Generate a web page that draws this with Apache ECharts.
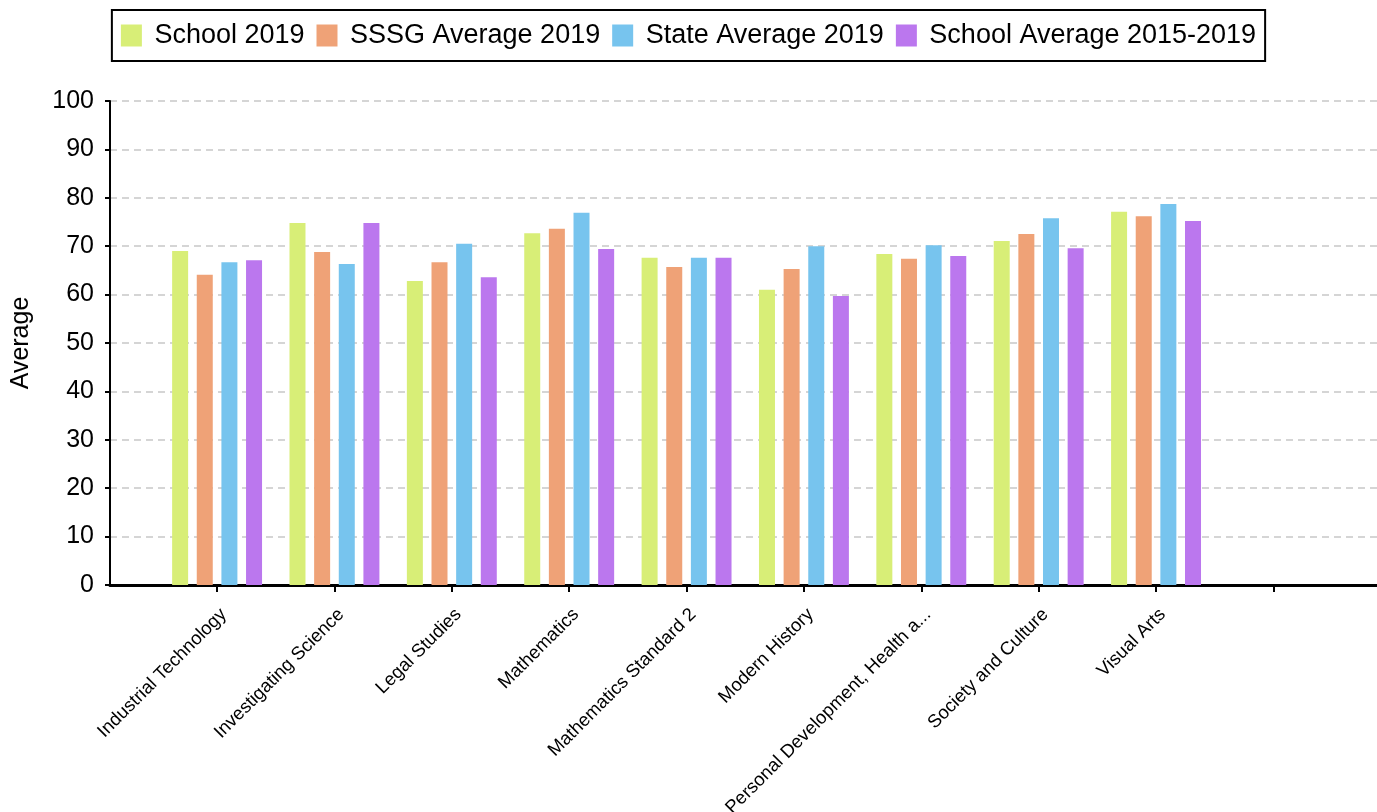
<!DOCTYPE html>
<html>
<head>
<meta charset="utf-8">
<script src="https://cdn.jsdelivr.net/npm/echarts@6/dist/echarts.min.js"></script>
<style>
  html, body { margin: 0; padding: 0; background: #fff; }
  #main { width: 1377px; height: 812px; }
</style>
</head>
<body>
<div id="main"></div>
<script>
// subjects, last slot is empty
var subjects = ['Industrial Technology', 'Investigating Science', 'Legal Studies', 'Mathematics',
    'Mathematics Standard 2', 'Modern History', 'Personal Development, Health and Physical Education',
    'Society and Culture', 'Visual Arts', ''];

var school2019 = [69.0, 74.8, 62.8, 72.7, 67.6, 61.0, 68.4, 71.1, 77.1, null];
var sssg2019 = [64.1, 68.8, 66.7, 73.6, 65.7, 65.3, 67.4, 72.5, 76.2, null];
var state2019 = [66.7, 66.3, 70.5, 76.9, 67.6, 70.0, 70.2, 75.8, 78.7, null];
var school1519 = [67.1, 74.8, 63.6, 69.4, 67.6, 59.7, 68.0, 69.6, 75.2, null];

var seriesNames = ['School 2019', 'SSSG Average 2019', 'State Average 2019', 'School Average 2015-2019'];
var colors = ['#d8ee77', '#efa277', '#77c4ee', '#bb77ee'];

var yTicks = [0, 100, 10];

function mkSeries(name, data, color) {
    return {
        name: name,
        type: 'bar',
        xAxisIndex: 1,
        yAxisIndex: 1,
        barWidth: 16,
        barGap: '54%',
        itemStyle: { color: color },
        data: data
    };
}

var myChart = echarts.init(document.getElementById('main'));
var option = {
    animation: false,
    textStyle: { fontFamily: 'Liberation Sans, Arial, sans-serif' },
    legend: {
        top: 10,
        left: 'center',
        borderColor: '#000',
        borderWidth: 2,
        padding: [12, 9],
        icon: 'rect',
        itemWidth: 21,
        itemHeight: 22,
        itemGap: 12,
        formatter: ' {name}',
        textStyle: { fontSize: 27, color: '#000' },
        data: seriesNames
    },
    grid: [
        { left: 110, right: 0, top: 101, bottom: 227, outerBoundsMode: 'none', containLabel: false },
        { left: 158.4, width: 1173.7, top: 101, bottom: 227, outerBoundsMode: 'none', containLabel: false }
    ],
    xAxis: [
        {
            type: 'category',
            gridIndex: 0,
            data: ['a'],
            axisLine: { lineStyle: { color: '#000', width: 3 } },
            axisTick: { show: false },
            axisLabel: { show: false }
        },
        {
            type: 'category',
            gridIndex: 1,
            data: subjects,
            axisLine: { lineStyle: { color: '#000', width: 3 } },
            axisTick: { show: true, alignWithLabel: true, length: 7, lineStyle: { color: '#000', width: 2 } },
            axisLabel: {
                rotate: 45,
                interval: 0,
                margin: 20,
                verticalAlign: 'top',
                fontSize: 18.5,
                color: '#000',
                formatter: function (v) {
                    return v.length > 30 ? v.slice(0, 30) + '...' : v;
                }
            }
        }
    ],
    yAxis: [
        {
            type: 'value',
            gridIndex: 0,
            min: yTicks[0],
            max: yTicks[1],
            interval: yTicks[2],
            name: 'Average',
            nameLocation: 'middle',
            nameGap: 76,
            nameTextStyle: { fontSize: 25, color: '#000' },
            axisLine: { show: true, lineStyle: { color: '#000', width: 2 } },
            axisTick: { show: true, length: 5, lineStyle: { color: '#000', width: 2 } },
            axisLabel: { fontSize: 25, color: '#000', margin: 16 },
            splitLine: { lineStyle: { color: '#c8c8c8', type: [7, 5], width: 1.5 } }
        },
        {
            type: 'value',
            gridIndex: 1,
            min: yTicks[0],
            max: yTicks[1],
            interval: yTicks[2],
            show: false
        }
    ],
    series: [
        mkSeries(seriesNames[0], school2019, colors[0]),
        mkSeries(seriesNames[1], sssg2019, colors[1]),
        mkSeries(seriesNames[2], state2019, colors[2]),
        mkSeries(seriesNames[3], school1519, colors[3])
    ]
};
myChart.setOption(option);
</script>
</body>
</html>
